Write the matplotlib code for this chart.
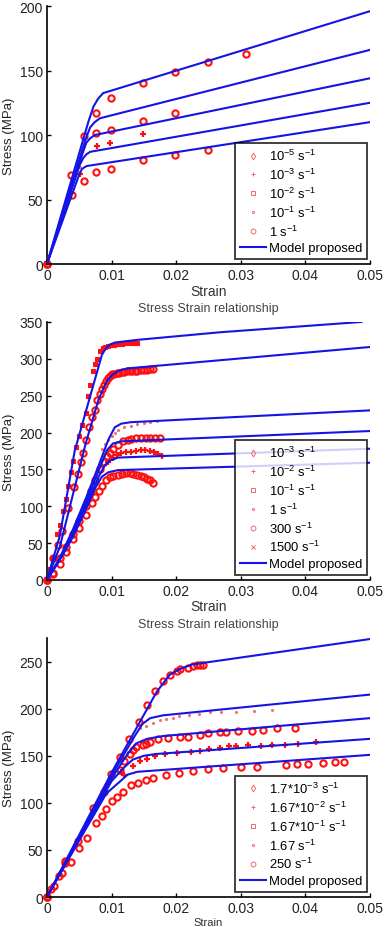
import matplotlib
matplotlib.use('Agg')
import matplotlib.pyplot as plt
from matplotlib.lines import Line2D

plt.rcParams['font.family'] = ['Liberation Sans', 'DejaVu Sans']
plt.rcParams['mathtext.default'] = 'regular'

##### data : panel 1 #####
p1_labels = [r'10$^{-5}$ s$^{-1}$', r'10$^{-3}$ s$^{-1}$', r'10$^{-2}$ s$^{-1}$',
             r'10$^{-1}$ s$^{-1}$', r'1 s$^{-1}$']
p1_legend_markers = ['d', '+', 's', '.', 'o']
p1_plot_markers = ['o', '+', 'o', '.', 'o']
p1_data_x = [
    [0, 0.0039, 0.0057, 0.0076, 0.0099, 0.0149, 0.0199, 0.0249],
    [0, 0.0051, 0.0078, 0.0098, 0.0149],
    [0, 0.0037, 0.0076, 0.0099, 0.0149, 0.0199],
    [0, 0.0051],
    [0, 0.0057, 0.0076, 0.0099, 0.0149, 0.0199, 0.0249, 0.0308],
]
p1_data_y = [
    [0, 53.7, 64.6, 71, 74, 80.6, 84.7, 88.6],
    [0, 70, 91.5, 93.5, 101],
    [0, 69, 101.8, 104, 111, 117.3],
    [0, 75],
    [0, 99, 116.8, 129, 140, 148.6, 157, 163],
]
p1_model_x = [
    [0, 0.0064, 0.0072, 0.0079, 0.0087, 0.05],
    [0, 0.0060, 0.0067, 0.0074, 0.0082, 0.05],
    [0, 0.0056, 0.0061, 0.0067, 0.0074, 0.05],
    [0, 0.0051, 0.0056, 0.0061, 0.0067, 0.05],
    [0, 0.0049, 0.0054, 0.0058, 0.0062, 0.05],
]
p1_model_y = [
    [0, 110, 122, 128, 132.5, 196],
    [0, 97, 106, 110, 113, 166],
    [0, 87, 94, 97.5, 100, 144],
    [0, 77, 82, 85, 87, 125],
    [0, 68, 73.5, 75, 76, 110],
]

##### data : panel 2 #####
p2_labels = [r'10$^{-3}$ s$^{-1}$', r'10$^{-2}$ s$^{-1}$', r'10$^{-1}$ s$^{-1}$',
             r'1 s$^{-1}$', r'300 s$^{-1}$', r'1500 s$^{-1}$']
p2_legend_markers = ['d', '+', 's', '.', 'o', 'x']
p2_plot_markers = ['o', '+', 'o', '.', 'o', 'x']
p2_data_x = [
    [0, 0.001, 0.002, 0.003, 0.004, 0.005, 0.006, 0.007, 0.0075, 0.008, 0.0085, 0.0092,
     0.0097, 0.0103, 0.011, 0.0116, 0.0122, 0.0128, 0.0134, 0.0139, 0.0145, 0.015,
     0.0155, 0.016, 0.0165],
    [0, 0.0095, 0.0102, 0.0108, 0.0115, 0.0122, 0.013, 0.0138, 0.0145, 0.0152, 0.016,
     0.0166, 0.0172, 0.0178],
    [0, 0.001, 0.002, 0.003, 0.004, 0.005, 0.006, 0.0068, 0.0075, 0.0082, 0.0088, 0.0093,
     0.0098, 0.0103, 0.011, 0.0118, 0.0125, 0.013, 0.0138, 0.0145, 0.0153, 0.016,
     0.0167, 0.0175],
    [0, 0.0085, 0.009, 0.0095, 0.01, 0.0105, 0.011, 0.012, 0.013, 0.014, 0.015, 0.016,
     0.017],
    [0, 0.001, 0.0017, 0.0023, 0.0033, 0.0042, 0.0048, 0.0052, 0.0056, 0.006, 0.0065,
     0.007, 0.0074, 0.0078, 0.0082, 0.0085, 0.0088, 0.0092, 0.0095, 0.0098, 0.0101,
     0.0104, 0.0108, 0.0112, 0.0116, 0.012, 0.0124, 0.0128, 0.0132, 0.0136, 0.014,
     0.0145, 0.015, 0.0155, 0.016, 0.0165],
    [0, 0.0005, 0.001, 0.0015, 0.002, 0.0025, 0.003, 0.0033, 0.0037, 0.004, 0.0045,
     0.005, 0.0055, 0.006, 0.0063, 0.0067, 0.0072, 0.0075, 0.0078, 0.0082, 0.0087,
     0.009, 0.0095, 0.01, 0.0104, 0.0108, 0.0112, 0.0116, 0.012, 0.0124, 0.0128,
     0.0132, 0.0136, 0.014],
]
p2_data_y = [
    [0, 8, 22, 38, 55, 70, 88, 105, 113, 120, 128, 135, 139, 141, 143, 144, 145, 145, 144,
     143, 141, 139, 137, 135, 132],
    [0, 160, 166, 170, 172, 173, 174, 175, 176, 176, 175, 173, 171, 168],
    [0, 10, 30, 45, 62, 80, 100, 120, 135, 150, 160, 168, 172, 178, 183, 188, 190, 191,
     192, 192, 193, 193, 193, 193],
    [0, 178, 185, 190, 195, 200, 203, 207, 209, 211, 213, 214, 215],
    [0, 30, 48, 66, 98, 126, 144, 160, 172, 190, 208, 221, 230, 244, 252, 259, 265, 270,
     274, 277, 279, 280, 281, 281, 282, 282, 283, 283, 283, 284, 284, 285, 285, 285,
     286, 286],
    [0, 15, 30, 62, 75, 93, 110, 127, 146, 162, 180, 195, 210, 227, 250, 265, 283, 293,
     300, 310, 314, 316, 318, 319, 319, 320, 320, 320, 321, 321, 321, 322, 322, 322],
]
p2_model_x = [
    [0, 0.002, 0.0043, 0.0085, 0.0091, 0.0097, 0.0105, 0.0139, 0.0268, 0.0487],
    [0, 0.002, 0.004, 0.006, 0.008, 0.0093, 0.0102, 0.0112, 0.0125, 0.05],
    [0, 0.002, 0.004, 0.006, 0.008, 0.0095, 0.0105, 0.0115, 0.013, 0.05],
    [0, 0.002, 0.004, 0.006, 0.008, 0.0093, 0.0102, 0.0115, 0.05],
    [0, 0.002, 0.004, 0.006, 0.008, 0.009, 0.0098, 0.011, 0.05],
    [0, 0.002, 0.004, 0.006, 0.0075, 0.0085, 0.0095, 0.011, 0.05],
]
p2_model_y = [
    [0, 60, 175, 305, 314, 319, 322, 325.6, 336, 350],
    [0, 45, 115, 185, 245, 270, 279, 284, 287, 316],
    [0, 30, 68, 110, 155, 190, 207, 212, 214, 230],
    [0, 29, 65, 105, 148, 176, 185, 188, 202],
    [0, 28, 62, 100, 140, 156, 162, 166, 178],
    [0, 27, 58, 95, 125, 140, 146, 149, 159],
]

##### data : panel 3 #####
p3_labels = [r'1.7*10$^{-3}$ s$^{-1}$', r'1.67*10$^{-2}$ s$^{-1}$',
             r'1.67*10$^{-1}$ s$^{-1}$', r'1.67 s$^{-1}$', r'250 s$^{-1}$']
p3_legend_markers = ['d', '+', 's', '.', 'o']
p3_plot_markers = ['o', '+', 'o', '.', 'o']
p3_data_x = [
    [0, 0.0011, 0.0024, 0.0028, 0.0037, 0.005, 0.0062, 0.0076, 0.0086, 0.0092, 0.01,
     0.0108, 0.0118, 0.013, 0.0141, 0.0153, 0.0164, 0.0184, 0.0205, 0.0226, 0.025,
     0.0273, 0.0301, 0.0326, 0.037, 0.0387, 0.0404, 0.0428, 0.0446, 0.046],
    [0, 0.0115, 0.012, 0.0134, 0.0144, 0.0155, 0.0168, 0.0183, 0.0201, 0.0223, 0.0237,
     0.0251, 0.0268, 0.0282, 0.0293, 0.0312, 0.0331, 0.0348, 0.0368, 0.0388, 0.0417],
    [0, 0.0113, 0.012, 0.0128, 0.0134, 0.0138, 0.0149, 0.0154, 0.0159, 0.0172, 0.0187,
     0.0206, 0.0218, 0.0237, 0.025, 0.0268, 0.0278, 0.0296, 0.0317, 0.0334, 0.0356,
     0.0384],
    [0, 0.0144, 0.0154, 0.0165, 0.0175, 0.0185, 0.0195, 0.0205, 0.022, 0.0235, 0.0252,
     0.0269, 0.0293, 0.032, 0.0348],
    [0, 0.0007, 0.0018, 0.0028, 0.0048, 0.0072, 0.0088, 0.0099, 0.0113, 0.0127, 0.0143,
     0.0155, 0.0168, 0.0179, 0.019, 0.0202, 0.0206, 0.0219, 0.0226, 0.0233, 0.0237,
     0.0242],
]
p3_data_y = [
    [0, 12, 26, 38.7, 37.6, 52.6, 62.5, 79, 86, 93, 101.6, 106.5, 112, 119, 121, 124.7,
     126, 129.7, 132, 133.6, 136, 137, 138, 138.6, 140.4, 141, 141, 142, 143, 143],
    [0, 133, 130, 139.6, 144, 147, 150, 152, 153, 154.5, 155.6, 157, 158, 160, 160, 161,
     160.6, 161, 162, 163, 164.5],
    [0, 135, 145, 152, 156.6, 159, 161, 163, 164.5, 168, 169, 170, 170, 172.5, 174, 175,
     175, 176, 176.5, 177, 179, 180],
    [0, 179, 182, 185, 188, 189, 190, 192, 193, 194, 196, 196, 197, 197.5, 199],
    [0, 8, 22, 36, 60, 95, 112, 131, 149, 168, 186, 204, 219, 229, 235.5, 240, 242, 243,
     245, 246, 246, 246],
]
p3_model_x = [
    [0, 0.01, 0.0144, 0.017, 0.019, 0.0205, 0.0225, 0.05],
    [0, 0.01, 0.0135, 0.0148, 0.016, 0.018, 0.05],
    [0, 0.01, 0.0125, 0.0138, 0.0155, 0.018, 0.05],
    [0, 0.01, 0.012, 0.0133, 0.015, 0.017, 0.05],
    [0, 0.006, 0.0092, 0.0112, 0.0125, 0.014, 0.05],
]
p3_model_y = [
    [0, 132, 186, 218, 236, 242, 247, 274],
    [0, 129, 170, 184, 190, 193, 215],
    [0, 126, 152, 163, 168, 171, 190],
    [0, 123, 138, 146, 150, 152, 168],
    [0, 72, 110, 122, 130, 133, 151],
]

DATA_RED = '#ff1010'
LEG_RED = '#f26a6a'
BLUE = '#1414e6'


def drawPanel(ax, labels, legMarkers, plotMarkers, dataX, dataY, modelX, modelY,
              ymax, yticks, title=None, xlabelSize=10):
    for k in range(len(modelX)):
        ax.plot(modelX[k], modelY[k], color=BLUE, lw=1.5, zorder=3)
    for k in range(len(dataX)):
        m = plotMarkers[k]
        if m == '.':
            ax.plot(dataX[k], dataY[k], linestyle='none', marker='.', ms=2.5,
                    color='#f07070', zorder=2, clip_on=False)
        elif m == '+':
            ax.plot(dataX[k], dataY[k], linestyle='none', marker='+', ms=4.5, mew=1.6,
                    color=DATA_RED, zorder=2, clip_on=False)
        elif m == 'x':
            ax.plot(dataX[k], dataY[k], linestyle='none', marker='s', ms=2.8, mew=0.8,
                    color=DATA_RED, zorder=2, clip_on=False)
        else:
            ax.plot(dataX[k], dataY[k], linestyle='none', marker='o', ms=4.5, mew=1.5,
                    mfc='none', mec=DATA_RED, zorder=2, clip_on=False)

    ax.set_xlim(0, 0.05)
    ax.set_ylim(0, ymax)
    ax.set_xticks([0, 0.01, 0.02, 0.03, 0.04, 0.05])
    ax.set_xticklabels(['0', '0.01', '0.02', '0.03', '0.04', '0.05'])
    ax.set_yticks(yticks)
    ax.spines['top'].set_visible(False)
    ax.spines['right'].set_visible(False)
    ax.spines['left'].set_linewidth(1.2)
    ax.spines['bottom'].set_linewidth(1.2)
    ax.tick_params(direction='in', length=3, width=1, labelsize=10, pad=3,
                   labelcolor='#222222')
    ax.set_xlabel('Strain', fontsize=xlabelSize, color='#333333', labelpad=1)
    ax.set_ylabel('Stress (MPa)', fontsize=9.5, color='#222222', labelpad=3)
    if title:
        ax.set_title(title, fontsize=9, color='#444444', pad=8)

    handles = []
    for k in range(len(labels)):
        handles.append(Line2D([], [], linestyle='none', marker=legMarkers[k],
                              ms=3.5 if legMarkers[k] != '.' else 3, mew=0.7,
                              mfc='none', mec=LEG_RED, color=LEG_RED))
    handles.append(Line2D([], [], color=BLUE, lw=1.5))
    leg = ax.legend(handles, labels + ['Model proposed'], loc='lower right',
                    bbox_to_anchor=(0.99, 0.02), borderaxespad=0, fontsize=9.4,
                    frameon=True, fancybox=False, edgecolor='black',
                    handlelength=2.0, handletextpad=0.2, labelspacing=0.28,
                    borderpad=0.35)
    leg.get_frame().set_linewidth(1.3)
    leg.set_zorder(5)


fig = plt.figure(figsize=(3.91, 9.28), dpi=100)
ax1 = fig.add_axes([0.120, 0.7144, 0.826, 0.278])
ax2 = fig.add_axes([0.120, 0.374, 0.826, 0.278])
ax3 = fig.add_axes([0.120, 0.0323, 0.826, 0.279])

drawPanel(ax1, p1_labels, p1_legend_markers, p1_plot_markers, p1_data_x, p1_data_y,
          p1_model_x, p1_model_y, 200, [0, 50, 100, 150, 200])
drawPanel(ax2, p2_labels, p2_legend_markers, p2_plot_markers, p2_data_x, p2_data_y,
          p2_model_x, p2_model_y, 350, [0, 50, 100, 150, 200, 250, 300, 350],
          title='Stress Strain relationship')
drawPanel(ax3, p3_labels, p3_legend_markers, p3_plot_markers, p3_data_x, p3_data_y,
          p3_model_x, p3_model_y, 275, [0, 50, 100, 150, 200, 250],
          title='Stress Strain relationship', xlabelSize=8)

fig.savefig('out.png', dpi=100)
